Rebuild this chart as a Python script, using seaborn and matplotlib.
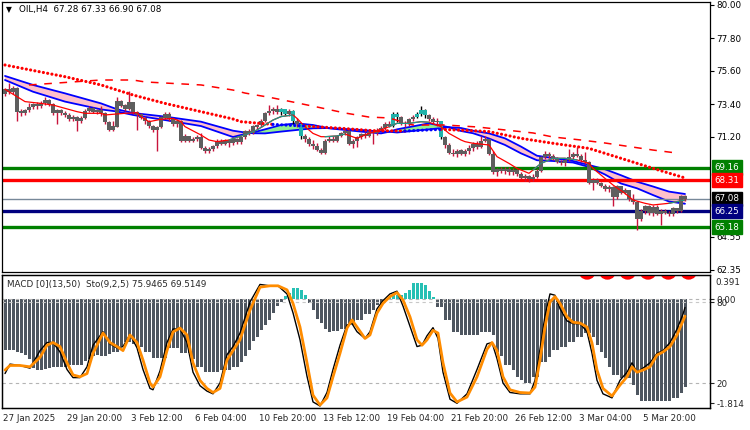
import numpy as np
import matplotlib
matplotlib.use("Agg")
import matplotlib.pyplot as plt
import matplotlib.transforms as mtrans
from matplotlib.textpath import TextPath
from matplotlib.patches import PathPatch
from matplotlib.font_manager import FontProperties
import seaborn as sns

sns.set_style("white")
plt.rcParams['font.family'] = ['DejaVu Sans']

# ---------------- data ----------------
symbol_title = "OIL,H4  67.28 67.33 66.90 67.08"
indicator_title = "MACD [0](13,50)  Sto(9,2,5) 75.9465 69.5149"
date_labels = ["27 Jan 2025", "29 Jan 20:00", "3 Feb 12:00", "6 Feb 04:00", "10 Feb 20:00",
               "13 Feb 12:00", "19 Feb 04:00", "21 Feb 20:00", "26 Feb 12:00", "3 Mar 04:00",
               "5 Mar 20:00"]
date_pos = [-0.5, 15.5, 31.5, 47.5, 63.5, 79.5, 95.5, 111.5, 127.5, 143.5, 159.5]
banner_text = "000000"

first_open = 74.10
close_px = [74.40, 74.20, 74.45, 72.90, 72.80, 73.00, 73.20, 73.40, 73.25, 73.45,
            73.65, 73.40, 72.80, 73.00, 72.80, 72.70, 72.40, 72.55, 72.25, 72.50,
            72.95, 73.15, 72.90, 73.00, 72.80, 72.20, 71.70, 71.90, 73.60, 73.30,
            73.10, 73.50, 72.85, 72.70, 72.50, 72.25, 71.95, 71.70, 71.85, 72.50,
            72.75, 72.40, 72.05, 72.30, 70.95, 71.25, 70.95, 71.05, 71.20, 70.50,
            70.25, 70.40, 70.60, 70.95, 70.75, 71.00, 70.80, 71.05, 70.85, 71.20,
            71.60, 71.45, 71.90, 72.00, 72.30, 72.80, 72.95, 73.10, 72.85, 73.05,
            72.75, 72.95, 72.25, 72.10, 71.25, 71.05, 70.75, 70.60, 70.35, 70.15,
            70.95, 71.10, 70.95, 71.25, 71.45, 71.60, 70.75, 70.95, 71.20, 71.40,
            71.25, 71.55, 71.45, 71.70, 71.80, 72.10, 71.95, 72.75, 72.55, 72.15,
            72.05, 72.40, 72.55, 72.75, 73.00, 72.65, 72.40, 72.20, 72.25, 71.20,
            70.70, 70.15, 70.05, 70.30, 70.10, 70.25, 70.45, 70.75, 70.55, 70.95,
            71.05, 70.10, 68.85, 69.05, 68.95, 69.10, 68.85, 69.00, 68.75, 68.50,
            68.60, 68.40, 68.55, 68.95, 69.85, 70.10, 69.95, 69.80, 69.55, 69.45,
            69.70, 69.85, 70.10, 69.95, 69.65, 69.55, 68.15, 68.35, 68.15, 67.95,
            67.75, 67.85, 67.20, 67.90, 67.50, 67.65, 67.05, 66.85, 65.75, 66.30,
            66.60, 66.15, 66.55, 66.10, 66.30, 66.15, 66.05, 66.45, 66.25, 67.28,
            67.08]
high_px = [74.50, 74.80, 74.60, 74.55, 73.05, 73.10, 73.45, 73.50, 73.55, 73.60,
           73.90, 73.75, 73.45, 73.10, 73.10, 72.95, 72.80, 72.65, 72.60, 72.60,
           73.05, 73.30, 73.20, 73.10, 73.30, 72.85, 72.25, 72.30, 73.90, 73.70,
           73.40, 74.30, 73.55, 72.95, 72.80, 72.60, 72.35, 72.00, 71.95, 72.60,
           72.90, 72.85, 72.50, 72.40, 72.35, 71.40, 71.30, 71.20, 71.35, 71.45,
           70.60, 70.55, 70.70, 71.05, 71.10, 71.10, 71.05, 71.20, 71.15, 71.30,
           71.70, 71.75, 72.00, 72.10, 72.40, 72.90, 73.35, 73.20, 73.35, 73.15,
           73.10, 73.05, 73.00, 72.45, 72.15, 71.40, 71.20, 71.00, 70.80, 70.50,
           71.05, 71.25, 71.25, 71.35, 71.55, 71.75, 71.65, 71.05, 71.30, 71.50,
           71.55, 71.65, 71.70, 71.80, 71.95, 72.20, 72.30, 72.85, 72.85, 72.60,
           72.30, 72.50, 72.65, 72.85, 73.25, 73.05, 72.75, 72.55, 72.45, 72.30,
           71.30, 70.80, 70.40, 70.40, 70.40, 70.40, 70.65, 70.90, 70.95, 71.25,
           71.30, 71.10, 70.30, 69.15, 69.20, 69.20, 69.20, 69.15, 69.10, 68.85,
           68.75, 68.70, 68.75, 69.05, 69.95, 70.25, 70.20, 70.05, 69.90, 69.70,
           69.75, 70.40, 70.20, 70.55, 70.05, 70.20, 69.60, 68.45, 68.45, 68.20,
           68.05, 68.00, 67.95, 68.00, 67.95, 67.80, 67.70, 67.40, 66.90, 66.40,
           66.70, 66.70, 66.65, 66.65, 66.40, 66.40, 66.30, 66.55, 66.50, 67.35,
           67.33]
low_px = [73.95, 74.05, 74.10, 72.30, 72.60, 72.70, 72.90, 73.05, 73.10, 73.15,
          73.35, 73.30, 72.70, 72.10, 72.70, 72.55, 72.30, 72.30, 71.60, 72.15,
          72.40, 72.85, 72.80, 72.75, 72.60, 72.10, 71.60, 71.60, 71.85, 73.20,
          72.95, 73.00, 72.75, 71.70, 72.40, 72.10, 71.80, 71.55, 70.30, 71.80,
          72.40, 72.30, 71.95, 71.90, 70.85, 70.90, 70.85, 70.85, 70.95, 70.40,
          70.15, 70.15, 70.30, 70.50, 70.65, 70.65, 70.55, 70.70, 70.75, 70.75,
          71.10, 71.35, 71.40, 71.75, 71.90, 72.20, 72.70, 72.75, 72.75, 72.65,
          72.65, 72.60, 72.10, 71.90, 71.10, 70.90, 70.60, 70.40, 70.25, 70.05,
          70.10, 70.85, 70.85, 70.90, 71.20, 71.35, 70.65, 70.45, 70.55, 71.10,
          71.15, 71.20, 70.75, 71.35, 71.60, 71.70, 71.85, 71.90, 72.20, 72.00,
          71.90, 71.95, 72.30, 72.45, 72.60, 72.50, 72.30, 72.05, 71.95, 71.05,
          70.45, 70.05, 69.95, 69.90, 70.00, 69.95, 70.10, 70.30, 70.40, 70.50,
          70.85, 70.00, 68.75, 68.60, 68.80, 68.75, 68.70, 68.70, 68.60, 68.40,
          68.30, 68.20, 68.30, 68.45, 68.90, 69.75, 69.80, 69.70, 69.45, 69.35,
          69.25, 69.60, 69.75, 69.85, 69.55, 69.40, 68.05, 67.70, 68.05, 67.85,
          67.60, 67.55, 66.60, 67.10, 67.40, 67.40, 66.95, 66.75, 65.00, 65.60,
          66.05, 66.00, 65.90, 66.00, 65.35, 66.05, 65.95, 65.95, 66.15, 66.20,
          66.90]
teal_candles = [69, 70, 72, 74, 97, 98, 103, 104, 105, 109]

band_idx = [0, 7, 15, 24, 28, 32, 40, 49, 57, 60, 62, 65, 69, 73, 77, 81, 89, 94, 96, 98,
            106, 111, 114, 117, 121, 125, 129, 133, 137, 142, 146, 150, 154, 158, 162, 166, 170]
band_slow = [75.27, 74.67, 74.11, 73.44, 73.05, 72.80, 72.56, 72.22, 71.62, 71.50, 71.45, 71.44,
             71.56, 71.67, 71.78, 71.80, 71.67, 71.56, 71.55, 71.50, 71.71, 71.85, 71.80, 71.62,
             71.44, 71.11, 70.56, 69.95, 69.80, 69.60, 69.33, 69.05, 68.65, 68.22, 67.90, 67.56, 67.40]
band_fast = [75.00, 74.22, 73.56, 73.04, 72.90, 72.67, 72.33, 71.93, 71.20, 71.40, 71.50, 71.71,
             72.00, 72.11, 72.00, 71.78, 71.56, 71.44, 71.55, 71.71, 72.11, 71.85, 71.60, 71.45,
             71.10, 70.67, 70.11, 69.65, 69.60, 69.50, 69.20, 68.70, 68.10, 67.78, 67.33, 66.90, 66.75]

thin_idx = [0, 3, 5, 9, 12, 15, 18, 20, 24, 25, 30, 33, 34, 36, 39, 42, 44, 45, 49, 51, 53, 56,
            61, 63, 65, 67, 69, 72, 73, 75, 77, 79, 80, 83, 85, 88, 91, 94, 96, 98, 101, 104,
            106, 109, 111, 114, 115, 117, 121, 123, 126, 128, 131, 132, 134, 137, 140, 143,
            146, 147, 150, 152, 155, 157, 160, 162, 166, 168, 170]
thin_val = [74.38, 73.89, 73.56, 73.44, 73.33, 73.11, 72.89, 72.78, 72.78, 72.67, 72.78, 72.82,
            72.56, 72.22, 72.38, 72.44, 72.22, 71.89, 71.33, 71.00, 70.89, 71.00, 71.44, 71.67,
            72.00, 72.33, 72.56, 72.67, 72.44, 71.89, 71.44, 71.22, 71.22, 71.27, 71.40, 71.11,
            71.44, 71.67, 71.89, 72.11, 72.11, 72.22, 72.18, 71.89, 71.44, 71.00, 70.89, 70.78,
            70.67, 69.89, 69.44, 69.11, 68.78, 69.00, 69.44, 69.78, 69.78, 69.67, 69.44, 69.11,
            68.44, 68.00, 67.44, 67.00, 66.78, 66.67, 66.78, 66.89, 67.00]
thin_teal_ranges = [(56, 72), (80, 85), (96, 106), (132, 143), (166, 170)]

dot_idx = [0, 15, 24, 32, 40, 49, 57, 59, 67, 75, 84, 92, 100, 109, 117, 121, 129, 137, 146,
           154, 162, 170]
dot_val = [76.0, 75.22, 74.67, 74.0, 73.44, 72.89, 72.4, 72.22, 72.04, 71.93, 71.78, 71.62,
           71.6, 71.71, 71.62, 71.56, 71.11, 70.78, 70.44, 69.78, 69.11, 68.47]
dot_blue_ranges = [(67, 75), (100, 109)]

dash_idx = [6, 24, 32, 35, 49, 57, 60, 67, 72, 78, 85, 91, 96, 102, 110, 118, 132, 137, 144,
            150, 162, 168]
dash_val = [74.67, 75.0, 75.0, 74.87, 74.67, 74.33, 74.13, 73.8, 73.53, 73.2, 72.8, 72.53,
            72.47, 72.0, 72.0, 71.87, 71.47, 71.2, 71.0, 70.8, 70.33, 70.13]

levels = [69.16, 68.31, 67.08, 66.25, 65.18]
level_colors = ['#008000', '#ff0000', '#778899', '#000080', '#008000']
level_box_colors = ['#008000', '#ff0000', '#000000', '#000080', '#008000']
level_widths = [2.4, 2.4, 1.0, 2.4, 2.4]
price_ticks = [80.00, 77.80, 75.60, 73.40, 71.20, 64.55, 62.35]

macd_hist = [-0.89, -0.89, -0.89, -0.92, -0.95, -0.98, -1.05, -1.20, -1.24, -1.23,
             -1.22, -1.20, -1.18, -1.18, -1.18, -1.18, -1.15, -1.15, -1.15, -1.15,
             -1.08, -1.04, -1.00, -0.98, -1.00, -1.00, -0.96, -0.92, -0.92, -0.82,
             -0.75, -0.75, -0.78, -0.84, -0.84, -0.92, -0.92, -1.03, -1.03, -1.03,
             -1.03, -0.86, -0.86, -0.86, -0.94, -0.94, -0.94, -1.05, -1.18, -1.18,
             -1.27, -1.27, -1.27, -1.27, -1.24, -1.24, -1.24, -1.18, -1.18, -1.09,
             -1.00, -0.89, -0.74, -0.66, -0.54, -0.45, -0.37, -0.25, -0.13, -0.05,
             0.06, 0.10, 0.19, 0.19, 0.16, 0.07, -0.07, -0.19, -0.35, -0.42,
             -0.52, -0.58, -0.56, -0.56, -0.52, -0.52, -0.45, -0.45, -0.37, -0.37,
             -0.26, -0.26, -0.20, -0.10, -0.10, -0.04, 0.03, 0.07, 0.07, 0.07,
             0.10, 0.16, 0.28, 0.28, 0.28, 0.25, 0.14, 0.03, -0.14, -0.14,
             -0.37, -0.37, -0.58, -0.58, -0.63, -0.63, -0.63, -0.63, -0.63, -0.58,
             -0.58, -0.58, -0.62, -0.92, -1.00, -1.15, -1.15, -1.24, -1.36, -1.41,
             -1.47, -1.47, -1.36, -1.36, -1.10, -1.10, -1.01, -0.89, -0.89, -0.84,
             -0.84, -0.75, -0.75, -0.66, -0.66, -0.59, -0.59, -0.66, -0.80, -0.92,
             -1.03, -1.19, -1.33, -1.33, -1.38, -1.38, -1.38, -1.50, -1.68, -1.78,
             -1.78, -1.78, -1.78, -1.78, -1.78, -1.78, -1.78, -1.73, -1.73, -1.64,
             -1.54]

sto_pos = [0, 1.25, 3.75, 6.25, 8.75, 10.5, 12, 13.75, 15.5, 17,
           18.75, 20.5, 22, 24.5, 26.25, 28, 29.5, 31.25, 33, 34.5,
           36.25, 37, 38.75, 40.5, 42, 43.75, 45.5, 47, 48.75, 50.5,
           52, 53.75, 55.5, 57, 58.75, 61.25, 63.75, 66.25, 68.25, 70.5,
           72, 73.75, 75.5, 77, 78.75, 80.5, 82, 83.75, 85.5, 86.75,
           88, 90, 91.25, 93, 94.5, 96.25, 98, 99.5, 101.25, 103,
           104.25, 105.5, 107, 108.25, 109.5, 111.25, 113, 115.5, 118, 120.5,
           121.75, 123, 124.5, 126.25, 128.75, 131.25, 132.5, 133.75, 135, 136.25,
           137.5, 138.75, 140.5, 142, 143.75, 145.5, 146.75, 148, 149.5, 151.75,
           153.75, 155.5, 156.75, 158, 159.5, 161.25, 163, 164.5, 166.25, 168,
           169.5, 170]
sto_signal = [29.6, 33, 33, 32, 39, 48, 50, 47, 35, 26,
              24.6, 27, 42, 57, 50, 47, 44, 55.6, 50, 37,
              20, 17, 24.6, 44, 57.8, 60.7, 55.6, 35, 22, 16,
              13, 16, 37, 44, 52, 74, 91, 92, 92, 89,
              79, 61.5, 35, 11, 3.7, 9, 24.6, 42, 60.7, 66.7,
              61.5, 53, 55.6, 71.8, 79, 84, 87, 81.5, 69, 52,
              48, 52, 59, 57, 35, 12.6, 6, 9.6, 24.6, 45,
              50, 44, 24.6, 15, 13, 12.6, 17, 37, 61.5, 80,
              84, 79, 69, 65, 64.4, 61.5, 49.6, 29.6, 16, 10.4,
              18.5, 24.6, 32, 28, 29.6, 32, 40.7, 43, 47, 55.6,
              66, 69.51]
sto_main = [27, 34, 33, 31, 44, 50, 50, 43, 30, 24,
            24, 32, 48, 58, 49, 46, 47, 56, 46, 30,
            16, 15, 29, 50, 60, 60, 50, 28, 18, 14,
            12, 20, 41, 47, 57, 80, 93, 92, 92, 86,
            72, 52, 25, 6, 3, 13, 30, 48, 63, 64,
            58, 53, 58, 75, 81, 86, 88, 77, 62, 47,
            48, 55, 61, 53, 28, 8, 5, 12, 30, 49,
            50, 38, 20, 13, 12, 12, 22, 45, 70, 86,
            85, 75, 66, 64, 64, 58, 42, 22, 12, 9,
            22, 28, 35, 28, 31, 35, 42, 44, 50, 60,
            71, 75.95]

assert len(close_px) == len(high_px) == len(low_px) == len(macd_hist) == 171
assert len(sto_pos) == len(sto_signal) == len(sto_main)

# ---------------- helpers ----------------
def seg(xv, yv, lo, hi):
    pts = [(a, b) for a, b in zip(xv, yv) if lo <= a <= hi]
    return [p[0] for p in pts], [p[1] for p in pts]

def complement(ranges, lo, hi):
    out, cur = [], lo
    for a, b in ranges:
        out.append((cur, a))
        cur = b
    out.append((cur, hi))
    return out

FS = 6.3
W, H = 750, 430
fig = plt.figure(figsize=(7.5, 4.3), dpi=100)
ax = fig.add_axes([2 / W, (H - 272) / H, 708 / W, 270 / H])
axm = fig.add_axes([2 / W, (H - 408) / H, 708 / W, 133 / H])
axs = axm.twinx()
XL = (-0.75, 176.25)

# ---------------- main panel ----------------
n = len(close_px)
xs = np.arange(n)
o = np.array([first_open] + close_px[:-1])
c = np.array(close_px)
h = np.array(high_px)
l = np.array(low_px)
is_teal = np.isin(xs, teal_candles)

bx = np.array(band_idx, dtype=float)
bs = np.array(band_slow)
bf = np.array(band_fast)
ax.fill_between(bx, bs, bf, where=bs >= bf, interpolate=True, color='#ffc0cb', lw=0, zorder=1)
ax.fill_between(bx, bs, bf, where=bf > bs, interpolate=True, color='#90ee90', lw=0, zorder=1)
sns.lineplot(x=band_idx, y=band_slow, ax=ax, color='#0000ff', lw=1.3, estimator=None, sort=False, zorder=2)
sns.lineplot(x=band_idx, y=band_fast, ax=ax, color='#0000ff', lw=1.3, estimator=None, sort=False, zorder=2)

for v, col, lw in zip(levels, level_colors, level_widths):
    ax.axhline(v, color=col, lw=lw, zorder=2.5)

wick_col = np.where(is_teal, '#000000', '#c8143c')
body_col = np.where(is_teal, '#20b2aa', '#5e5e5e')
ax.vlines(xs, l, h, colors=wick_col, lw=1.0, zorder=4)
bottoms = np.minimum(o, c)
heights = np.maximum(np.abs(c - o), 0.06)
ax.bar(xs, heights, bottom=bottoms, width=0.8, color=body_col, lw=0, zorder=5)

# thin fast MA (red, teal in up-phases)
sns.lineplot(x=thin_idx, y=thin_val, ax=ax, color='#ff0000', lw=0.9, estimator=None, sort=False, zorder=6)
for a, b in thin_teal_ranges:
    sx, sy = seg(thin_idx, thin_val, a, b)
    sns.lineplot(x=sx, y=sy, ax=ax, color='#1a9a8a', lw=0.9, estimator=None, sort=False, zorder=6.1)

# slow dotted MA
for a, b in complement(dot_blue_ranges, 0, 170):
    sx, sy = seg(dot_idx, dot_val, a, b)
    sns.lineplot(x=sx, y=sy, ax=ax, color='#ff0000', lw=2.3, linestyle=(0, (0.01, 1.35)),
                 dash_capstyle='round', estimator=None, sort=False, zorder=6)
for a, b in dot_blue_ranges:
    sx, sy = seg(dot_idx, dot_val, a, b)
    sns.lineplot(x=sx, y=sy, ax=ax, color='#0000ff', lw=2.3, linestyle=(0, (0.01, 1.35)),
                 dash_capstyle='round', estimator=None, sort=False, zorder=6)

# slowest dashed MA
sns.lineplot(x=dash_idx, y=dash_val, ax=ax, color='#ff0000', lw=1.1, linestyle=(0, (5, 5)),
             estimator=None, sort=False, zorder=6)

ax.set_xlim(*XL)
ax.set_ylim(62.2, 80.2)
ax.set_xticks([])
ax.yaxis.tick_right()
ax.set_yticks(price_ticks)
ax.set_yticklabels([f"{v:.2f}" for v in price_ticks])
ax.tick_params(axis='y', length=3, width=0.8, pad=1.5, labelsize=FS, direction='out', colors='black')
ax.set_xlabel('')
ax.set_ylabel('')
for s in ax.spines.values():
    s.set_color('black')
    s.set_linewidth(0.9)

for v, bc in zip(levels, level_box_colors):
    ax.annotate(f"{v:.2f}", xy=(1, v), xycoords=('axes fraction', 'data'), xytext=(3.5, 0),
                textcoords='offset points', ha='left', va='center', fontsize=FS, color='white',
                bbox=dict(boxstyle='square,pad=0.3', fc=bc, ec=bc), annotation_clip=False, zorder=10)

ax.text(0.006, 0.972, "\u25BC", transform=ax.transAxes, fontsize=5.5, ha='left', va='center', color='black')
ax.text(0.024, 0.972, symbol_title, transform=ax.transAxes, fontsize=FS, ha='left', va='center', color='black')

# ---------------- lower panel ----------------
axm.set_zorder(1)
axs.set_zorder(2)
ax.set_zorder(3)          # main window drawn last: its white background hides the banner's upper part
axs.patch.set_visible(False)
hist = np.array(macd_hist)
hcol = np.where(hist > 0, '#26c0b4', '#4e5660')
blend = mtrans.blended_transform_factory(axm.transAxes, axs.transData)
axm.plot([0, 1], [20, 20], transform=blend, color='#b4b4b4', lw=0.8, ls=(0, (3, 3)), zorder=0.5)
axm.bar(xs, hist, width=0.75, color=hcol, lw=0, zorder=1)
axm.axhline(0, color='#b4b4b4', lw=0.8, ls=(0, (3, 3)), zorder=2)
axm.plot([0, 1], [80, 80], transform=blend, color='#c8c8c8', lw=0.8, ls=(0, (3, 3)), zorder=2)
axm.set_xlim(*XL)
axm.set_ylim(-1.901, 0.419)
axm.yaxis.tick_right()
axm.set_yticks([0.0, -1.814])
axm.set_yticklabels(['0.00', '-1.814'])
axm.tick_params(axis='y', length=3, width=0.8, pad=1.5, labelsize=FS, direction='out')
axm.set_xticks(date_pos)
axm.set_xticklabels(date_labels, ha='left')
axm.tick_params(axis='x', length=3, width=0.8, pad=1.5, labelsize=FS, direction='out')
axm.annotate("0.391", xy=(1, 0.391), xycoords=('axes fraction', 'data'), xytext=(3.6, -1),
             textcoords='offset points', ha='left', va='top', fontsize=FS, annotation_clip=False)
axm.text(0.007, 0.932, indicator_title, transform=axm.transAxes, fontsize=FS, ha='left', va='center', zorder=5)

# large red banner text, only its lower edge peeks into the indicator window
tp = TextPath((0, 0), banner_text, size=21, prop=FontProperties(family='DejaVu Sans', weight='bold'))
x_disp = axm.transData.transform((143, 0))[0]
y_disp = axm.transAxes.transform((0, 0.968))[1]
tr = mtrans.Affine2D().scale(fig.dpi / 72.0).translate(x_disp, y_disp)
banner = PathPatch(tp, transform=tr, fc='#ff0000', ec='none', zorder=3)
axm.add_artist(banner)
banner.set_clip_box(axm.bbox)

sns.lineplot(x=sto_pos, y=sto_main, ax=axs, color='black', lw=1.0, estimator=None, sort=False)
sns.lineplot(x=sto_pos, y=sto_signal, ax=axs, color='#ff8c00', lw=2.0, estimator=None, sort=False)
axs.set_ylim(1.5, 100)
axs.set_xlim(*XL)
axs.set_yticks([80, 20])
axs.set_yticklabels(['80', '20'])
axs.tick_params(axis='y', length=3, width=0.8, pad=1.5, labelsize=FS, direction='out')
axs.set_ylabel('')
axm.set_ylabel('')
for a_ in (axm, axs):
    for s in a_.spines.values():
        s.set_color('black')
        s.set_linewidth(0.9)

fig.savefig("out.png", dpi=100, facecolor='white')
